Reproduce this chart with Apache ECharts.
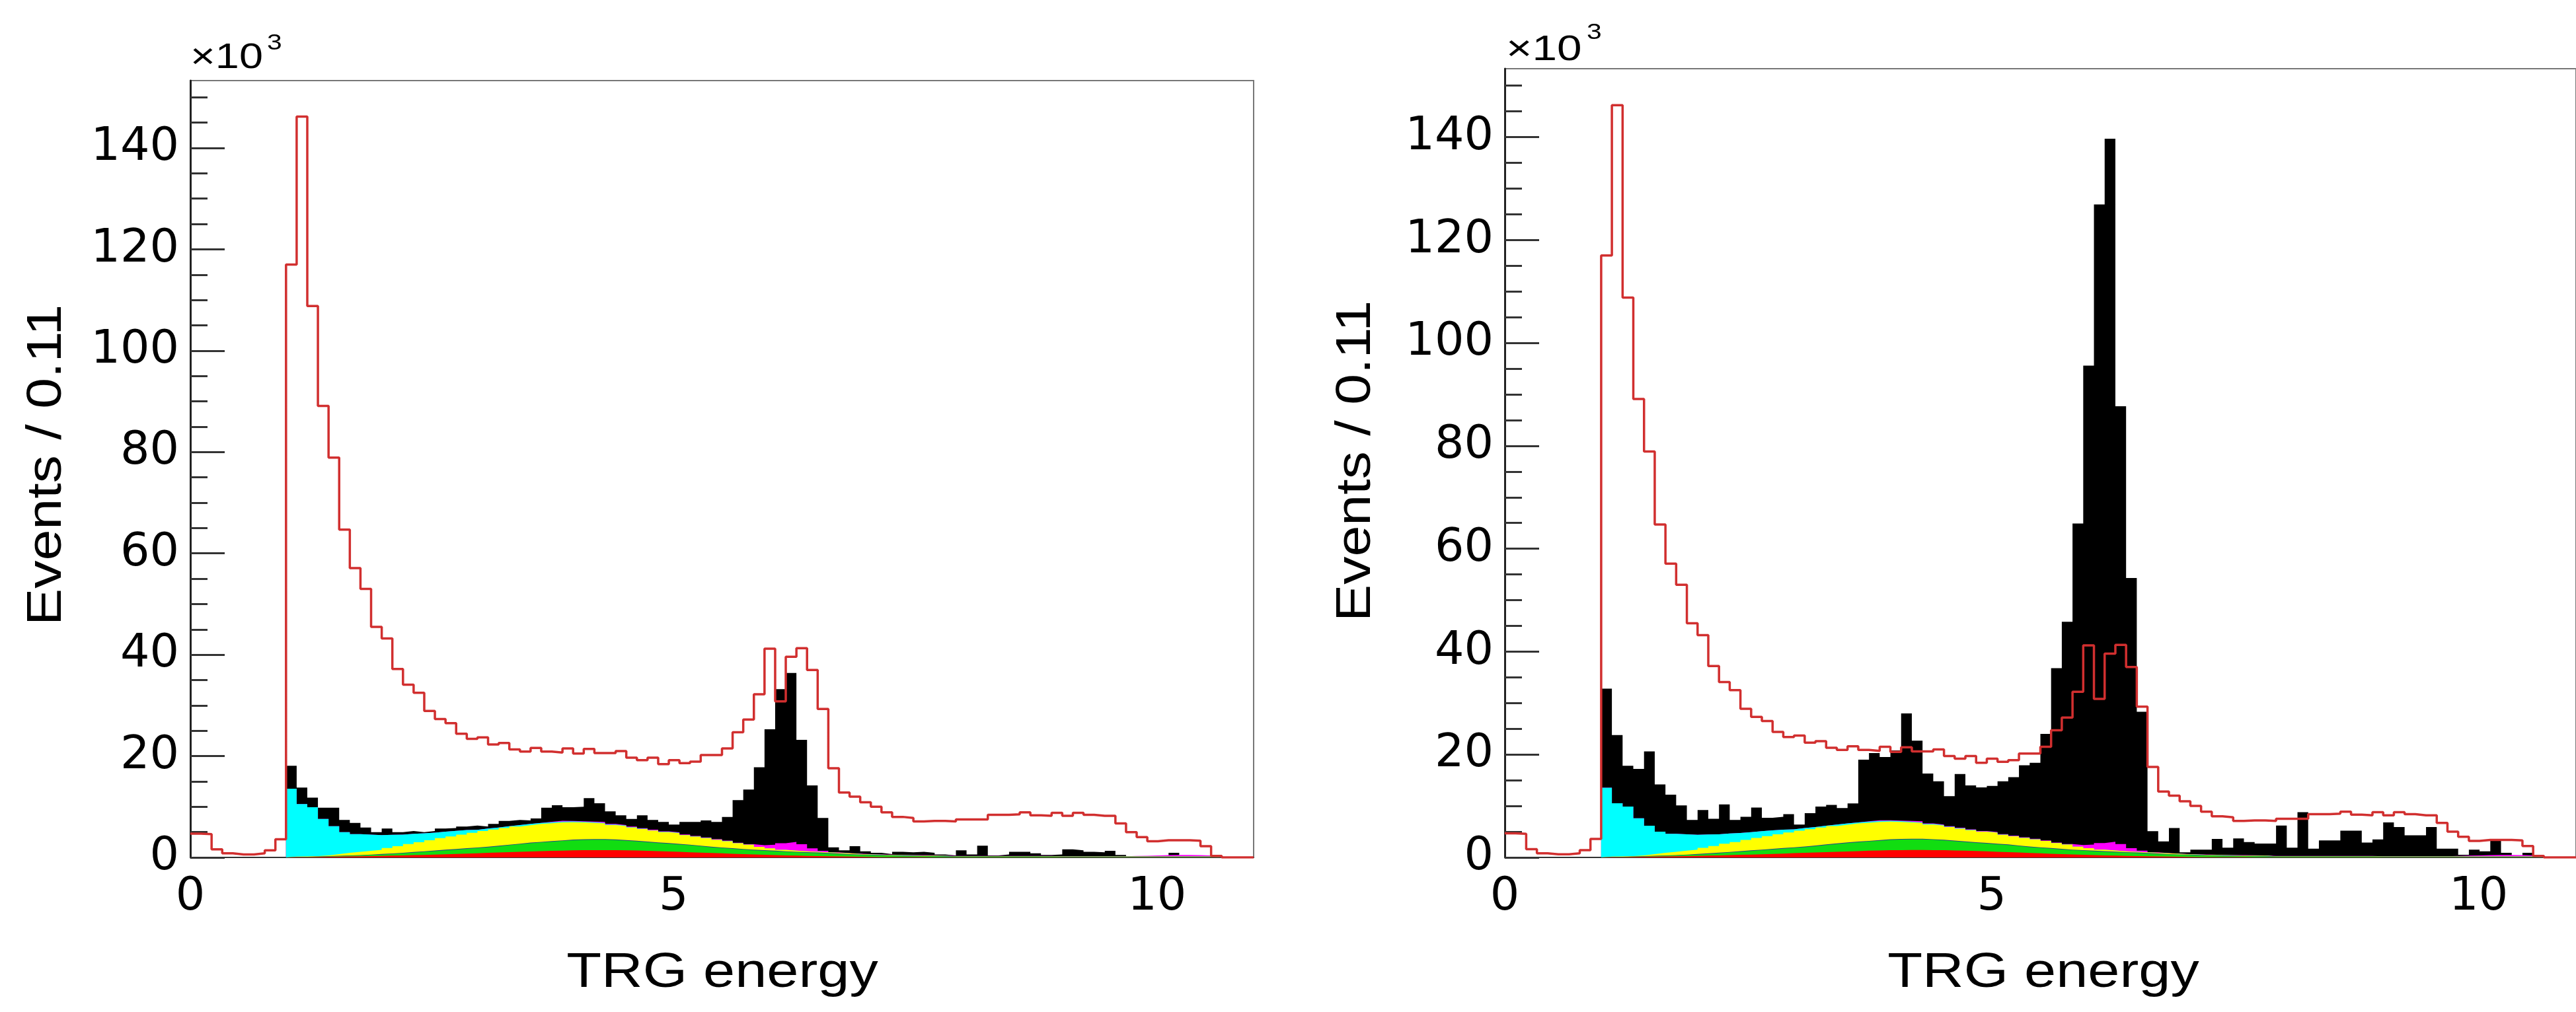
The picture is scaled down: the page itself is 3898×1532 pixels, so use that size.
<!DOCTYPE html>
<html>
<head>
<meta charset="utf-8">
<script src="https://cdn.jsdelivr.net/npm/echarts@6/dist/echarts.min.js"></script>
<style>
html,body{margin:0;padding:0;background:#fff;}
#chart{width:3898px;height:1532px;}
</style>
</head>
<body>
<div id="chart"></div>
<script>
// ---- binning / axes ----
const binWidth = 0.11;
const xMax = 11;
const yMax = 153.3;
const xTickLabels = [0, 5, 10];
const yMajorTicks = [0, 20, 40, 60, 80, 100, 120, 140];
const yMinorTicks = [0,5,10,15,20,25,30,35,40,45,50,55,60,65,70,75,80,85,90,95,100,105,110,115,120,125,130,135,140,145,150];

// ---- red outline histogram (same in both panels), x10^3 events per bin ----
const mcOutline = [
  4.7, 4.6, 1.6, 0.8, 0.6, 0.6, 0.8, 1.4, 3.6, 117.0,
  146.2, 108.8, 89.1, 78.9, 64.7, 57.1, 53.0, 45.5, 43.2, 37.2,
  34.1, 32.5, 28.9, 27.3, 26.5, 24.4, 23.4, 23.7, 22.3, 22.6,
  21.3, 20.9, 21.6, 20.9, 20.7, 21.5, 20.5, 21.4, 20.6, 20.6,
  21.0, 19.7, 19.2, 19.7, 18.4, 19.2, 18.6, 18.9, 20.2, 20.2,
  21.5, 24.7, 27.2, 32.2, 41.2, 30.8, 39.6, 41.3, 37.0, 29.3,
  17.6, 12.8, 12.0, 10.9, 10.0, 8.9, 8.0, 7.8, 7.1, 7.2,
  7.2, 7.1, 7.5, 7.5, 7.5, 8.4, 8.4, 8.5, 8.9, 8.3,
  8.2, 8.8, 8.2, 8.8, 8.4, 8.2, 8.2, 6.7, 5.0, 4.0,
  3.2, 3.4, 3.4, 3.4, 3.3, 2.2, 0.3, 0, 0, 0
];

// ---- stacked components (same in both panels), bottom to top ----
const redComp = [
  0,0,0,0,0,0,0,0,0,0.05,
  0.08,0.1,0.12,0.15,0.18,0.22,0.26,0.3,0.35,0.4,
  0.45,0.5,0.56,0.62,0.68,0.75,0.82,0.9,0.97,1.04,
  1.1,1.17,1.23,1.3,1.35,1.4,1.42,1.44,1.44,1.42,
  1.4,1.36,1.3,1.24,1.18,1.1,1.02,0.95,0.88,0.8,
  0.72,0.65,0.58,0.52,0.46,0.4,0.35,0.3,0.26,0.22,
  0.18,0.15,0.12,0.1,0.08,0.07,0.06,0.05,0.05,0.04,
  0.04,0.03,0.03,0.03,0.03,0.03,0.03,0.03,0.03,0.03,
  0.03,0.03,0.03,0.03,0.03,0.03,0.03,0.03,0.03,0.03,
  0.03,0.03,0.03,0.03,0.03,0.03,0,0,0,0
];
const greenComp = [
  0,0,0,0,0,0,0,0,0,0.02,
  0.03,0.05,0.08,0.11,0.14,0.18,0.22,0.26,0.32,0.4,
  0.5,0.6,0.69,0.78,0.86,0.95,1.03,1.1,1.22,1.36,
  1.5,1.63,1.72,1.8,1.9,2.0,2.04,2.06,2.06,2.0,
  1.9,1.8,1.7,1.6,1.52,1.45,1.38,1.25,1.12,1.05,
  0.98,0.9,0.82,0.78,0.74,0.7,0.65,0.62,0.59,0.53,
  0.47,0.42,0.38,0.35,0.32,0.28,0.24,0.22,0.2,0.18,
  0.16,0.12,0.12,0.12,0.12,0.12,0.12,0.12,0.12,0.12,
  0.12,0.08,0.08,0.08,0.08,0.08,0.08,0.08,0.08,0.08,
  0.08,0.08,0.08,0.08,0.08,0.08,0,0,0,0
];
const blueComp = [
  0,0,0,0,0,0,0,0,0,0.03,
  0.03,0.03,0.06,0.06,0.06,0.06,0.06,0.12,0.12,0.12,
  0.12,0.12,0.12,0.12,0.12,0.12,0.12,0.12,0.12,0.12,
  0.12,0.12,0.12,0.12,0.12,0.12,0.12,0.12,0.12,0.12,
  0.12,0.12,0.12,0.12,0.12,0.12,0.12,0.12,0.12,0.12,
  0.12,0.12,0.12,0.12,0.12,0.12,0.12,0.12,0.12,0.12,
  0.12,0.08,0.08,0.08,0.08,0.08,0.08,0.08,0.08,0.08,
  0.08,0.04,0.04,0.04,0.04,0.04,0.04,0.04,0.04,0.04,
  0.04,0.04,0.04,0.04,0.04,0.04,0.04,0.04,0.04,0.04,
  0.04,0.04,0.04,0.04,0.04,0.04,0,0,0,0
];
const yellowComp = [
  0,0,0,0,0,0,0,0,0,0.05,
  0.05,0.07,0.14,0.33,0.52,0.64,0.76,0.82,1.06,1.28,
  1.58,1.78,2.03,2.28,2.49,2.68,2.88,3.08,3.19,3.28,
  3.38,3.43,3.53,3.53,3.53,3.43,3.32,3.18,3.08,2.86,
  2.78,2.62,2.48,2.34,2.18,2.13,1.88,1.78,1.68,1.53,
  1.38,1.13,0.98,0.68,0.48,0.28,0.23,0.16,0.13,0.13,
  0.13,0.15,0.12,0.07,0.06,0.06,0.06,0.06,0.06,0.06,
  0.06,0.04,0.04,0.04,0.04,0.04,0.04,0.04,0.04,0.04,
  0.04,0.04,0.04,0.04,0.04,0.04,0.04,0.04,0.04,0.04,
  0.04,0.04,0.04,0.04,0.04,0.04,0,0,0,0
];
const cyanComp = [
  0,0,0,0,0,0,0,0,0,13.4,
  10.35,9.65,7.2,5.5,4.1,3.5,3.2,2.9,2.6,2.3,
  2.0,1.75,1.5,1.3,1.1,0.9,0.6,0.5,0.4,0.35,
  0.3,0.25,0.22,0.2,0.18,0.16,0.15,0.13,0.12,0.1,
  0.1,0.08,0.07,0.06,0.05,0.05,0.04,0.04,0.03,0.03,
  0.02,0,0,0,0,0,0,0,0,0,
  0,0,0,0,0,0,0,0,0,0,
  0,0,0,0,0,0,0,0,0,0,
  0,0,0,0,0,0,0,0,0,0,
  0,0,0,0,0,0,0,0,0,0
];
const magentaComp = [
  0,0,0,0,0,0,0,0,0,0,
  0,0,0,0,0,0,0,0,0,0,
  0,0,0,0,0,0,0,0,0,0,
  0,0,0,0.08,0.15,0.1,0.1,0.15,0.2,0.1,
  0.1,0.1,0.1,0.1,0.1,0.1,0.1,0.1,0.1,0.1,
  0.1,0.1,0.1,0.3,0.7,1.3,1.7,1.4,0.7,0.3,
  0.1,0.05,0.05,0.05,0.05,0.05,0.05,0.05,0.05,0.05,
  0.05,0.05,0.05,0.05,0.05,0.05,0.05,0.05,0.05,0.05,
  0.05,0.05,0.05,0.05,0.05,0.05,0.05,0.05,0.1,0.15,
  0.2,0.25,0.3,0.3,0.25,0.2,0,0,0,0
];

// ---- black histogram (top of stack) per panel ----
const blackLeft = [
  0,0,0,0,0,0,0,0,0,18.1,
  13.8,11.8,9.8,9.8,7.4,6.8,5.9,5.0,5.7,5.0,
  5.2,5.0,5.2,5.7,5.8,6.1,6.3,6.1,6.6,7.2,
  7.4,7.3,7.7,9.8,10.3,9.9,10.0,11.7,10.7,9.1,
  8.3,7.6,8.3,7.4,7.0,6.5,7.0,7.0,7.3,7.0,
  8.0,11.3,13.4,17.8,25.3,33.2,36.4,23.2,14.2,7.8,
  2.0,1.4,2.2,1.2,0.9,0.65,1.1,1.0,1.1,0.9,
  0.6,0.4,1.4,0.6,2.3,0.4,0.6,1.1,1.1,0.8,
  0.5,0.6,1.6,1.4,1.1,1.0,1.3,0.5,0.2,0.1,
  0.2,0.2,0.9,0.4,0.3,0.2,0,0,0,0
];
const blackRight = [
  0,0,0,0,0,0,0,0,0,32.8,
  23.8,17.8,17.2,20.6,14.2,12.2,10.1,7.3,9.2,7.5,
  10.3,7.3,7.9,9.7,7.7,7.9,8.4,6.4,8.6,9.9,
  10.2,9.6,10.5,19.0,20.3,19.5,20.8,28.0,22.7,16.3,
  14.8,11.9,16.2,14.0,13.6,13.9,14.8,15.6,17.9,18.4,
  24.0,36.8,45.8,64.9,95.6,126.9,139.7,87.7,54.3,28.3,
  5.1,3.1,5.7,1.0,1.5,1.5,3.6,1.9,3.7,3.0,
  2.7,2.7,6.2,1.9,8.8,1.7,3.3,3.3,5.2,5.2,
  2.9,3.5,6.8,5.9,4.3,4.3,5.9,1.7,1.7,0.5,
  1.5,1.2,3.6,0.9,0.3,0.9,0,0,0,0
];

// ---- build step data ----
const edges = mcOutline.map((_, i) => +(i * binWidth).toFixed(4));
function stepData(vals) {
  const d = vals.map((v, i) => [edges[i], v]);
  d.push([xMax, vals[vals.length - 1]]);
  return d;
}
const layers = [
  { name: 'red',     vals: redComp,     color: '#ff0000' },
  { name: 'green',   vals: greenComp,   color: '#11dd11' },
  { name: 'blue',    vals: blueComp,    color: '#24408f' },
  { name: 'yellow',  vals: yellowComp,  color: '#ffff00' },
  { name: 'cyan',    vals: cyanComp,    color: '#00ffff' },
  { name: 'magenta', vals: magentaComp, color: '#ff00ff' }
];
let running = mcOutline.map(() => 0);
const cumLayers = layers.map(l => {
  running = running.map((r, i) => r + l.vals[i]);
  return { name: l.name, color: l.color, top: running.slice() };
});

const FONT = 'Liberation Sans';
const LABEL_FONT = 'DejaVu Sans';
const series = [];
const xAxes = [];
const yAxes = [];
const grids = [
  { left: 288, top: 122, width: 1609, height: 1176, show: true, borderColor: '#777', borderWidth: 2, backgroundColor: 'rgba(0,0,0,0)' },
  { left: 2277, top: 104, width: 1639, height: 1194, show: true, borderColor: '#777', borderWidth: 2, backgroundColor: 'rgba(0,0,0,0)' }
];
[blackLeft, blackRight].forEach((black, g) => {
  xAxes.push({
    gridIndex: g, type: 'value', min: 0, max: xMax,
    axisLine: { show: true, onZero: false, lineStyle: { color: '#333', width: 2 } },
    axisTick: { show: false }, splitLine: { show: false },
    axisLabel: { customValues: xTickLabels, fontSize: 70, fontFamily: LABEL_FONT, color: '#000', margin: 26 }
  });
  yAxes.push({
    gridIndex: g, type: 'value', min: 0, max: yMax, position: 'left', offset: 0,
    axisLine: { show: true, onZero: false, lineStyle: { color: '#222', width: 3 } },
    axisTick: { show: true, inside: true, length: 52, customValues: yMajorTicks, lineStyle: { color: '#333', width: 3 } },
    axisLabel: { customValues: yMajorTicks, fontSize: 70, fontFamily: LABEL_FONT, color: '#000', margin: 17 },
    splitLine: { show: false }
  });
  yAxes.push({
    gridIndex: g, type: 'value', min: 0, max: yMax, position: 'left', offset: 0,
    axisLine: { show: false },
    axisTick: { show: true, inside: true, length: 26, customValues: yMinorTicks, lineStyle: { color: '#333', width: 3 } },
    axisLabel: { show: false }, splitLine: { show: false }
  });
  const base = { type: 'line', xAxisIndex: g, yAxisIndex: 2 * g, step: 'end', symbol: 'none', showSymbol: false, silent: true, animation: false };
  series.push(Object.assign({}, base, {
    name: 'black' + g, data: stepData(black), z: 2,
    lineStyle: { width: 0 }, areaStyle: { color: '#000', opacity: 1 }
  }));
  cumLayers.slice().reverse().forEach((l, j) => {
    series.push(Object.assign({}, base, {
      name: l.name + g, data: stepData(l.top), z: 3 + j,
      lineStyle: { width: 0 }, areaStyle: { color: l.color, opacity: 1 }
    }));
  });
  series.push(Object.assign({}, base, {
    name: 'outline' + g, data: stepData(mcOutline), z: 20,
    lineStyle: { color: '#d12f2f', width: 3.5 }
  }));
});

const titleStyle = { fontSize: 74, fontFamily: FONT, fill: '#000', align: 'center', verticalAlign: 'middle' };
const graphic = [
  { type: 'text', x: 1093, y: 1474, scaleX: 1.17, style: Object.assign({ text: 'TRG energy' }, titleStyle) },
  { type: 'text', x: 3092, y: 1474, scaleX: 1.17, style: Object.assign({ text: 'TRG energy' }, titleStyle) },
  { type: 'text', x: 72, y: 704, rotation: Math.PI / 2, scaleX: 1.14, style: Object.assign({ text: 'Events / 0.11' }, titleStyle) },
  { type: 'text', x: 2053, y: 698, rotation: Math.PI / 2, scaleX: 1.14, style: Object.assign({ text: 'Events / 0.11' }, titleStyle) },
  { type: 'text', x: 288, y: 88, scaleX: 1.2, style: { text: '×10', fontSize: 54, fontFamily: FONT, fill: '#000', align: 'left', verticalAlign: 'middle' } },
  { type: 'text', x: 404, y: 66, scaleX: 1.2, style: { text: '3', fontSize: 34, fontFamily: FONT, fill: '#000', align: 'left', verticalAlign: 'middle' } },
  { type: 'text', x: 2279, y: 76, scaleX: 1.25, style: { text: '×10', fontSize: 54, fontFamily: FONT, fill: '#000', align: 'left', verticalAlign: 'middle' } },
  { type: 'text', x: 2401, y: 50, scaleX: 1.2, style: { text: '3', fontSize: 34, fontFamily: FONT, fill: '#000', align: 'left', verticalAlign: 'middle' } }
];

const chart = echarts.init(document.getElementById('chart'), null, { renderer: 'canvas', width: 3898, height: 1532 });
chart.setOption({
  backgroundColor: '#ffffff',
  animation: false,
  grid: grids,
  xAxis: xAxes,
  yAxis: yAxes,
  series: series,
  graphic: graphic
});
</script>
</body>
</html>
